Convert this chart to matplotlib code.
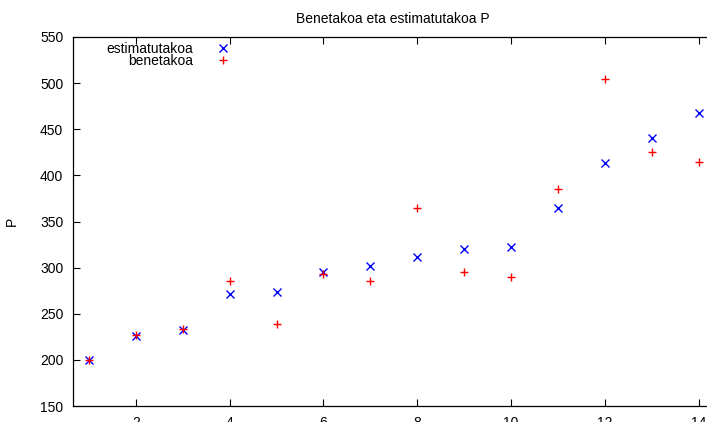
import numpy as np
import matplotlib
matplotlib.use('Agg')
import matplotlib.pyplot as plt

# Data
x = np.arange(1, 15)
estimatutakoa = [200, 226, 232, 271, 274, 295, 302, 311, 320, 322,
                 365, 413, 441, 468]
benetakoa = [200, 227, 234, 285, 239, 293, 285, 365, 295, 290,
             385, 505, 425, 415]

plt.rcParams['font.family'] = ['Liberation Sans', 'DejaVu Sans']
plt.rc('font', size=10)

fig = plt.figure(figsize=[7.07, 4.22], dpi=100)
ax = fig.add_axes([73 / 707, 16 / 422, 640 / 707, 369 / 422])

ax.plot(x, estimatutakoa, linestyle='none', marker='x', color='#0000ff',
        markersize=5.5, markeredgewidth=1, label='estimatutakoa')
ax.plot(x, benetakoa, linestyle='none', marker='+', color='#ff0000',
        markersize=6, markeredgewidth=1, label='benetakoa')

ax.set_xlim(0.66, 14 + (713 - 698.7) / 47)
ax.set_ylim(150, 550)
ax.set_xticks([2, 4, 6, 8, 10, 12, 14])
ax.set_yticks(np.arange(150, 551, 50))
ax.tick_params(direction='in', length=5, width=0.8, top=True, right=False,
               pad=7, labelsize=10)
for s in ax.spines.values():
    s.set_linewidth(0.9)
ax.spines['right'].set_visible(False)

ax.set_title('Benetakoa eta estimatutakoa P', fontsize=10, pad=10)
ax.set_ylabel('P', labelpad=15)

ax.legend(loc='upper right', bbox_to_anchor=(237 / 707, 1 - 42 / 422),
          bbox_transform=fig.transFigure, frameon=False, markerfirst=False,
          borderpad=0, borderaxespad=0, handlelength=2, handletextpad=1.15,
          labelspacing=-0.15, fontsize=10)

plt.savefig('out.png', dpi=100)
